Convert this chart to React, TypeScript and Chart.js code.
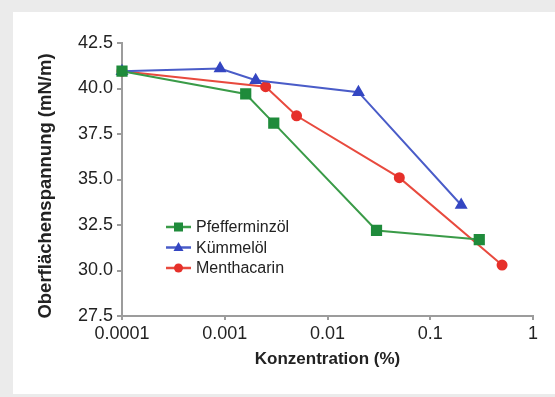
import React, { useEffect, useRef } from "react";
import { Chart, registerables } from "chart.js";

Chart.register(...registerables);

const xTickValues = [0.0001, 0.001, 0.01, 0.1, 1];
const xTickLabels = ["0.0001", "0.001", "0.01", "0.1", "1"];

const seriesNames = ["Pfefferminzöl", "Kümmelöl", "Menthacarin"];

const pfefferX = [0.0001, 0.0016, 0.003, 0.03, 0.3];
const pfefferY = [40.95, 39.7, 38.1, 32.2, 31.7];

const kuemmelX = [0.0001, 0.0009, 0.002, 0.02, 0.2];
const kuemmelY = [40.95, 41.1, 40.45, 39.8, 33.6];

const menthaX = [0.0001, 0.0025, 0.005, 0.05, 0.5];
const menthaY = [40.95, 40.1, 38.5, 35.1, 30.3];

const GREEN = "#1f8b3b";
const GREEN_LINE = "#3a9b48";
const BLUE = "#3446c2";
const BLUE_LINE = "#4a5cc8";
const RED = "#e6302a";
const RED_LINE = "#e84a3e";
const TEXT = "#222222";
const AXIS = "#9c9c9c";
const FONT = "'Liberation Sans', Arial, Helvetica, sans-serif";

function pts(xs: number[], ys: number[]) {
  return xs.map((x, i) => ({ x, y: ys[i] }));
}

const overlayPlugin = {
  id: "overlay",
  afterDraw(chart: any) {
    const ctx = chart.ctx as CanvasRenderingContext2D;
    ctx.save();
    // y axis title
    ctx.translate(46, 186);
    ctx.rotate(-Math.PI / 2);
    ctx.font = `bold 18.5px ${FONT}`;
    ctx.fillStyle = TEXT;
    ctx.textAlign = "center";
    ctx.textBaseline = "middle";
    ctx.fillText("Oberflächenspannung (mN/m)", 0, 0);
    ctx.restore();

    // legend
    const rows = [
      { name: seriesNames[0], color: GREEN, line: GREEN_LINE, shape: "rect", y: 227 },
      { name: seriesNames[1], color: BLUE, line: BLUE_LINE, shape: "tri", y: 247.5 },
      { name: seriesNames[2], color: RED, line: RED_LINE, shape: "circle", y: 268 },
    ];
    ctx.save();
    for (const r of rows) {
      ctx.strokeStyle = r.line;
      ctx.lineWidth = 2.5;
      ctx.beginPath();
      ctx.moveTo(166, r.y);
      ctx.lineTo(191, r.y);
      ctx.stroke();
      ctx.fillStyle = r.color;
      const cx = 178.5;
      ctx.beginPath();
      if (r.shape === "rect") {
        ctx.rect(cx - 4.5, r.y - 4.5, 9, 9);
      } else if (r.shape === "tri") {
        ctx.moveTo(cx, r.y - 5.5);
        ctx.lineTo(cx + 5, r.y + 3.5);
        ctx.lineTo(cx - 5, r.y + 3.5);
        ctx.closePath();
      } else {
        ctx.arc(cx, r.y, 4.5, 0, Math.PI * 2);
      }
      ctx.fill();
      ctx.font = `16px ${FONT}`;
      ctx.fillStyle = TEXT;
      ctx.textAlign = "left";
      ctx.textBaseline = "middle";
      ctx.fillText(r.name, 196, r.y + 1);
    }
    ctx.restore();
  },
};

export default function App() {
  const ref = useRef<HTMLCanvasElement | null>(null);

  useEffect(() => {
    if (!ref.current) return;
    const chart = new Chart(ref.current, {
      type: "line",
      data: {
        datasets: [
          {
            label: seriesNames[0],
            data: pts(pfefferX, pfefferY),
            borderColor: GREEN_LINE,
            backgroundColor: GREEN,
            pointBackgroundColor: GREEN,
            pointBorderColor: GREEN,
            pointStyle: "rect",
            pointRadius: 6.5,
            borderWidth: 2,
            clip: false as any,
          },
          {
            label: seriesNames[1],
            data: pts(kuemmelX, kuemmelY),
            borderColor: BLUE_LINE,
            backgroundColor: BLUE,
            pointBackgroundColor: BLUE,
            pointBorderColor: BLUE,
            pointStyle: "triangle",
            pointRadius: 5.5,
            borderWidth: 2,
            clip: false as any,
          },
          {
            label: seriesNames[2],
            data: pts(menthaX, menthaY),
            borderColor: RED_LINE,
            backgroundColor: RED,
            pointBackgroundColor: RED,
            pointBorderColor: RED,
            pointStyle: "circle",
            pointRadius: 4.5,
            borderWidth: 2,
            clip: false as any,
          },
        ],
      },
      options: {
        animation: false,
        responsive: false,
        devicePixelRatio: 1,
        layout: { padding: { left: 0, top: 43, right: 22, bottom: 0 } },
        plugins: {
          legend: { display: false },
          tooltip: { enabled: false },
        },
        scales: {
          x: {
            type: "logarithmic",
            min: 0.0001,
            max: 1,
            afterBuildTicks: (scale: any) => {
              scale.ticks = xTickValues.map((v) => ({ value: v }));
            },
            afterFit: (scale: any) => {
              scale.height = 81;
            },
            ticks: {
              color: TEXT,
              font: { family: FONT, size: 18 },
              padding: 3,
              autoSkip: false,
              maxRotation: 0,
              callback: (value: any) => {
                const i = xTickValues.findIndex((v) => Math.abs(v - value) / v < 1e-6);
                return i >= 0 ? xTickLabels[i] : "";
              },
            },
            grid: {
              drawOnChartArea: false,
              drawTicks: true,
              tickLength: 4,
              color: AXIS,
              lineWidth: 2,
            },
            border: { color: AXIS, width: 2 },
            title: {
              display: true,
              text: "Konzentration (%)",
              color: TEXT,
              font: { family: FONT, size: 17, weight: "bold" },
              padding: { top: 0, bottom: 27 },
            },
          },
          y: {
            min: 27.5,
            max: 42.5,
            afterFit: (scale: any) => {
              scale.width = 122;
            },
            ticks: {
              stepSize: 2.5,
              color: TEXT,
              font: { family: FONT, size: 18 },
              padding: 4,
              callback: (value: any) => Number(value).toFixed(1),
            },
            grid: {
              drawOnChartArea: false,
              drawTicks: true,
              tickLength: 5,
              color: AXIS,
              lineWidth: 2,
            },
            border: { color: AXIS, width: 2 },
          },
        },
      },
      plugins: [overlayPlugin],
    } as any);
    return () => chart.destroy();
  }, []);

  return (
    <div
      style={{
        position: "fixed",
        left: 0,
        top: 0,
        width: 555,
        height: 397,
        background: "#ebebeb",
        overflow: "hidden",
      }}
    >
      <div
        style={{
          position: "absolute",
          left: 13,
          top: 12,
          right: 0,
          bottom: 3,
          background: "#ffffff",
        }}
      />
      <canvas
        ref={ref}
        width={555}
        height={397}
        style={{ position: "absolute", left: 0, top: 0, width: 555, height: 397 }}
      />
    </div>
  );
}
